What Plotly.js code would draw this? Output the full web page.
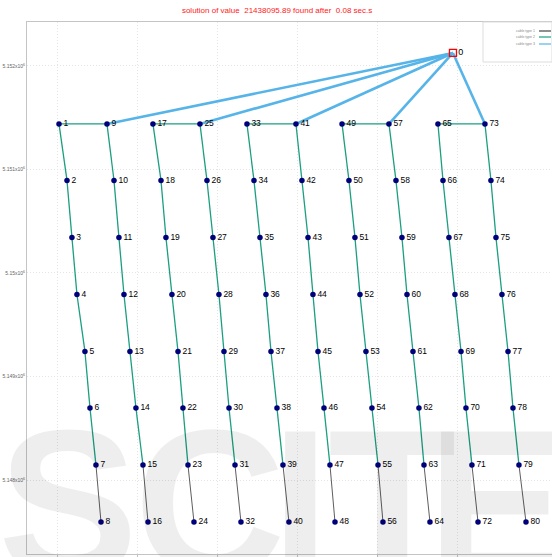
<!DOCTYPE html>
<html>
<head>
<meta charset="utf-8">
<script src="https://cdn.plot.ly/plotly-3.0.1.min.js"></script>
<style>html,body{margin:0;padding:0;background:#fff}#chart{width:552px;height:557px}</style>
</head>
<body>
<div id="chart"></div>
<script>
// Node ids 0..80 (0 = substation)
const nodeIds = Array.from({length: 81}, (_, i) => i);
// Easting (x) for nodes 0..80
const nodeX = [653949,
  649013,649113,649175,649238,649338,649401,649476,649539,
  649614,649702,649764,649827,649902,649977,650065,650128,
  650190,650291,650353,650428,650504,650566,650629,650704,
  650779,650867,650942,651017,651080,651143,651218,651293,
  651368,651456,651531,651606,651669,651744,651819,651894,
  651982,652057,652133,652195,652258,652333,652408,652471,
  652559,652646,652721,652784,652859,652934,653010,653072,
  653147,653235,653310,653373,653448,653523,653586,653661,
  653761,653824,653899,653974,654050,654112,654187,654263,
  654350,654425,654488,654563,654639,654701,654776,654864];
// Northing (y) per row of each string (rows 1..8), node 0 separate
const rowY = [5151440,5150894,5150343,5149792,5149242,5148696,5148145,5147594];
const substationY = 5152126;

// Cable connections [from, to]
const cableType1 = [[7,8],[15,16],[23,24],[31,32],[39,40],[47,48],[55,56],[63,64],[71,72],[79,80]];
const cableType2 = [
  [1,2],[2,3],[3,4],[4,5],[5,6],[6,7],
  [9,10],[10,11],[11,12],[12,13],[13,14],[14,15],
  [17,18],[18,19],[19,20],[20,21],[21,22],[22,23],
  [25,26],[26,27],[27,28],[28,29],[29,30],[30,31],
  [33,34],[34,35],[35,36],[36,37],[37,38],[38,39],
  [41,42],[42,43],[43,44],[44,45],[45,46],[46,47],
  [49,50],[50,51],[51,52],[52,53],[53,54],[54,55],
  [57,58],[58,59],[59,60],[60,61],[61,62],[62,63],
  [65,66],[66,67],[67,68],[68,69],[69,70],[70,71],
  [73,74],[74,75],[75,76],[76,77],[77,78],[78,79],
  [1,9],[17,25],[33,41],[49,57],[65,73]];
const cableType3 = [[0,9],[0,25],[0,41],[0,57],[0,73]];

const cableNames = ['cable type 1','cable type 2','cable type 3'];
const cableColors = ['#444444','#1a9e80','#56b4e9'];
const xTickVals = [649000,650000,651000,652000,653000,654000];
const xTickText = ['6.49x10<sup>5</sup>','6.5x10<sup>5</sup>','6.51x10<sup>5</sup>','6.52x10<sup>5</sup>','6.53x10<sup>5</sup>','6.54x10<sup>5</sup>'];
const yTickVals = [5148000,5149000,5150000,5151000,5152000];
const yTickText = ['5.148x10<sup>6</sup>','5.149x10<sup>6</sup>','5.15x10<sup>6</sup>','5.151x10<sup>6</sup>','5.152x10<sup>6</sup>'];
const titleText = 'solution of value  21438095.89 found after  0.08 sec.s';
const watermarkLetters = ['S','C','I','T','E'];

function nodeY(id){ return id === 0 ? substationY : rowY[(id - 1) % 8]; }
function edgeTrace(edges, name, color, width){
  const x = [], y = [];
  edges.forEach(([a,b]) => { x.push(nodeX[a], nodeX[b], null); y.push(nodeY(a), nodeY(b), null); });
  return {type:'scatter', mode:'lines', x, y, name, showlegend:false, line:{color, width}, hoverinfo:'skip'};
}
const turbines = nodeIds.slice(1);
const traces = [
  edgeTrace(cableType1, cableNames[0], '#333333', 0.8),
  edgeTrace(cableType2, cableNames[1], cableColors[1], 1.3),
  edgeTrace(cableType3, cableNames[2], cableColors[2], 2.6),
  {type:'scatter', mode:'markers+text', showlegend:false,
   x: turbines.map(i => nodeX[i]), y: turbines.map(nodeY),
   text: turbines.map(String), textposition:'middle right',
   textfont:{size:8.5, color:'#000', family:'Liberation Sans, Arial, sans-serif'},
   marker:{color:'#00007a', size:5.5}},
  {type:'scatter', mode:'markers+text', showlegend:false,
   x:[nodeX[0]], y:[substationY], text:['0'], textposition:'middle right',
   textfont:{size:9, color:'#000', family:'Liberation Sans, Arial, sans-serif'},
   marker:{symbol:'square-open', color:'#ff0000', size:7, line:{width:1.3}}}
];

// pixel-free paper helpers for the compact legend box
const plotL = 27, plotR = 552, plotT = 22, plotB = 554;
const px = v => (v - plotL) / (plotR - plotL);
const py = v => (plotB - v) / (plotB - plotT);

const shapes = [
  {type:'rect', xref:'paper', yref:'paper', x0:px(483), x1:px(552), y0:py(62), y1:py(22),
   line:{color:'#dddddd', width:1}, fillcolor:'#ffffff', layer:'above'}
];
const annotations = [];
const legendRows = [31, 37, 44];
cableNames.forEach((n, i) => {
  shapes.push({type:'line', xref:'paper', yref:'paper', x0:px(539), x1:px(551), y0:py(legendRows[i]), y1:py(legendRows[i]),
               line:{color:cableColors[i], width:1.2}, layer:'above'});
  annotations.push({text:n, xref:'paper', yref:'paper', x:px(537), y:py(legendRows[i]), xanchor:'right', yanchor:'middle',
                    showarrow:false, font:{size:3.5, color:'#888', family:'Liberation Sans, Arial, sans-serif'}});
});
const wmX = [68, 210, 300, 392, 497];
watermarkLetters.forEach((l, i) => {
  annotations.push({text:'<b>'+l+'</b>', xref:'paper', yref:'paper', x:px(wmX[i]), y:0.32, xanchor:'center', yanchor:'top',
    showarrow:false, font:{size:210, color:'rgba(0,0,0,0.065)', family:'Liberation Sans, Arial, sans-serif'}});
});

const layout = {
  width:552, height:557,
  margin:{l:27, r:0, t:22, b:3},
  paper_bgcolor:'#fff', plot_bgcolor:'#fff',
  title:{text:titleText, x:0.502, xanchor:'center', y:0.982, yanchor:'middle',
         font:{size:8, color:'#ff2020', family:'Liberation Sans, Arial, sans-serif'}},
  showlegend:false,
  xaxis:{range:[648612,655190], tickvals:xTickVals, ticktext:xTickText, showgrid:true,
         gridcolor:'#e4e4e4', griddash:'1px,2px', gridwidth:1, zeroline:false,
         showline:true, linecolor:'#c4c4c4', linewidth:1, mirror:true,
         ticks:'outside', ticklen:2, tickcolor:'#c4c4c4',
         tickfont:{size:5, color:'#666'}},
  yaxis:{range:[5147285,5152425], tickvals:yTickVals, ticktext:yTickText, showgrid:true,
         gridcolor:'#e4e4e4', griddash:'1px,2px', gridwidth:1, zeroline:false,
         showline:true, linecolor:'#c4c4c4', linewidth:1, mirror:true,
         ticks:'', tickfont:{size:5, color:'#666', family:'Liberation Sans, Arial, sans-serif'}},
  shapes, annotations
};
Plotly.newPlot('chart', traces, layout, {displayModeBar:false, staticPlot:true});
</script>
</body>
</html>
